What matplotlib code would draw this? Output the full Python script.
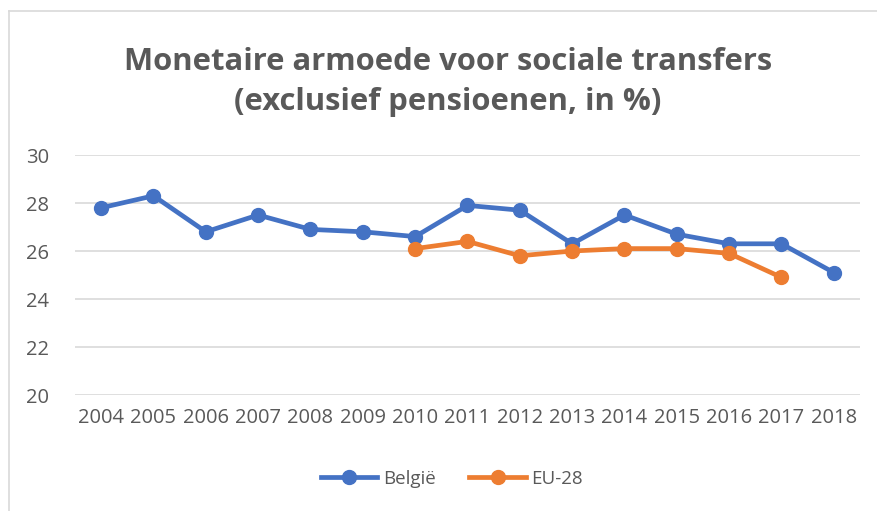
import matplotlib.pyplot as plt
from matplotlib.lines import Line2D

years = [str(y) for y in range(2004, 2019)]
belgie = [27.8, 28.3, 26.8, 27.5, 26.9, 26.8, 26.6, 27.9, 27.7, 26.3, 27.5, 26.7, 26.3, 26.3, 25.1]
eu_years = [str(y) for y in range(2010, 2018)]
eu28 = [26.1, 26.4, 25.8, 26.0, 26.1, 26.1, 25.9, 24.9]

blue = "#4472C4"
orange = "#ED7D31"
text_grey = "#595959"

plt.rcParams["font.family"] = ["Open Sans", "DejaVu Sans"]

fig = plt.figure(figsize=(8.78, 5.11), dpi=100)
ax = fig.add_axes([75 / 878, 1 - 395 / 511, 785 / 878, 240 / 511])

x_all = list(range(len(years)))
x_eu = [years.index(y) for y in eu_years]

ax.plot(x_all, belgie, color=blue, lw=3.4, marker="o", ms=10, label="België",
        solid_capstyle="round", zorder=3)
ax.plot(x_eu, eu28, color=orange, lw=3.4, marker="o", ms=10, label="EU-28",
        solid_capstyle="round", zorder=3)

ax.set_xlim(-0.5, len(years) - 0.5)
ax.set_ylim(20, 30)
ax.set_yticks(range(20, 31, 2))
ax.set_xticks(x_all)
ax.set_xticklabels(years)
ax.grid(axis="y", color="#D9D9D9", lw=1.2)
ax.set_axisbelow(True)
for side in ax.spines.values():
    side.set_visible(False)
ax.tick_params(length=0, labelsize=14.5, colors=text_grey, pad=9)
ax.tick_params(axis="y", pad=35)
for lbl in ax.get_yticklabels():
    lbl.set_horizontalalignment("left")

fig.text(448 / 878, 1 - 82 / 511,
         "Monetaire armoede voor sociale transfers\n(exclusief pensioenen, in %)",
         ha="center", va="center", fontsize=22.3, fontweight="bold", color=text_grey,
         linespacing=1.4)

handles = [
    Line2D([0], [0], color=blue, lw=3.4, marker="o", ms=10),
    Line2D([0], [0], color=orange, lw=3.4, marker="o", ms=10),
]
fig.legend(handles, ["België", "EU-28"], loc="center", bbox_to_anchor=(452 / 878, 1 - 479 / 511),
           ncol=2, frameon=False, fontsize=13.5, labelcolor=text_grey,
           handlelength=3.0, handletextpad=0.3, columnspacing=1.8)

# chart frame: only the left and top edges are visible in the crop
x0, y0 = 9.5 / 878, 1 - 11.5 / 511
fig.add_artist(Line2D([x0, x0], [0, y0], transform=fig.transFigure, color="#D9D9D9", lw=1.2))
fig.add_artist(Line2D([x0, 1], [y0, y0], transform=fig.transFigure, color="#D9D9D9", lw=1.2))

fig.savefig("out.png", dpi=100)
